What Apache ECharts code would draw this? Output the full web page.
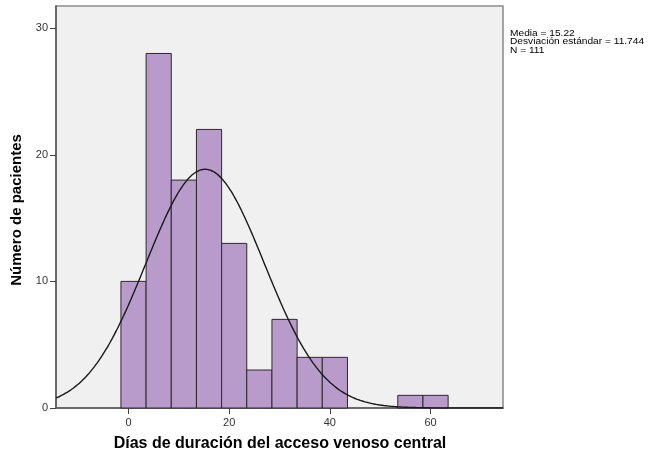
<!DOCTYPE html>
<html>
<head>
<meta charset="utf-8">
<script src="https://cdn.jsdelivr.net/npm/echarts@6/dist/echarts.min.js"></script>
<style>
  html, body { margin: 0; padding: 0; background: #ffffff; }
  #chart { width: 650px; height: 458px; }
</style>
</head>
<body>
<div id="chart"></div>
<script>
// Histogram bins (days) and patient counts per bin
const binLower = [-1.5, 3.5, 8.5, 13.5, 18.5, 23.5, 28.5, 33.5, 38.5, 43.5, 48.5, 53.5, 58.5];
const binUpper = [3.5, 8.5, 13.5, 18.5, 23.5, 28.5, 33.5, 38.5, 43.5, 48.5, 53.5, 58.5, 63.5];
const counts   = [10, 28, 18, 22, 13, 3, 7, 4, 4, 0, 0, 1, 1];

// Summary statistics shown beside the plot
const mean = 15.22;
const stdDev = 11.744;
const nTotal = 111;
const binWidth = 5;

// Axis tick positions
const xTicks = [0, 20, 40, 60];
const yTicks = [0, 10, 20, 30];

// Fitted normal curve scaled to counts per bin
const curveXs = [];
for (let x = -14.4; x <= 74.4; x += 0.4) curveXs.push(+x.toFixed(2));
const normalCurve = curveXs.map(function (x) {
  const z = (x - mean) / stdDev;
  return [x, nTotal * binWidth * Math.exp(-0.5 * z * z) / (stdDev * Math.sqrt(2 * Math.PI))];
});

const histData = binLower.map(function (lo, i) { return [lo, binUpper[i], counts[i]]; });

const chart = echarts.init(document.getElementById('chart'), null, { renderer: 'canvas' });
const labelFont = 'Liberation Sans, Arial, sans-serif';

chart.setOption({
  animation: false,
  backgroundColor: '#ffffff',
  grid: {
    left: 56, right: 147, top: 6, bottom: 50,
    show: true, backgroundColor: '#f0f0f0', borderColor: '#8a8a8a', borderWidth: 1.5
  },
  xAxis: {
    type: 'value', min: -14.4, max: 74.4,
    splitLine: { show: false },
    axisLine: { show: true, onZero: false, lineStyle: { color: '#555555', width: 1.5 } },
    axisTick: { show: true, customValues: xTicks, length: 6, lineStyle: { color: '#444444', width: 1 } },
    axisLabel: { customValues: xTicks, color: '#333333', fontSize: 11, fontFamily: labelFont, margin: 9 }
  },
  yAxis: {
    type: 'value', min: 0, max: 31.75,
    splitLine: { show: false },
    axisLine: { show: true, onZero: false, lineStyle: { color: '#555555', width: 1.5 } },
    axisTick: { show: true, customValues: yTicks, length: 6, lineStyle: { color: '#444444', width: 1 } },
    axisLabel: { customValues: yTicks, color: '#333333', fontSize: 11, fontFamily: labelFont, margin: 8 }
  },
  series: [
    {
      type: 'custom',
      data: histData,
      encode: { x: [0, 1], y: 2 },
      z: 2,
      renderItem: function (params, api) {
        if (api.value(2) <= 0) return null;
        const a = api.coord([api.value(0), 0]);
        const b = api.coord([api.value(1), api.value(2)]);
        return {
          type: 'rect',
          shape: { x: a[0], y: b[1], width: b[0] - a[0], height: a[1] - b[1] },
          style: { fill: '#b89bca', stroke: '#2a2a2a', lineWidth: 1 }
        };
      }
    },
    {
      type: 'line',
      data: normalCurve,
      showSymbol: false,
      smooth: true,
      z: 3,
      lineStyle: { color: '#1a1a1a', width: 1.4 }
    }
  ],
  graphic: [
    {
      type: 'text', x: 510, y: 29, scaleX: 1.13,
      style: {
        text: 'Media = 15.22\nDesviación estándar = 11.744\nN = 111',
        font: '9px Liberation Sans, Arial, sans-serif', fill: '#000000', lineHeight: 8.5
      }
    },
    {
      type: 'text', x: 280, y: 444,
      style: {
        text: 'Días de duración del acceso venoso central',
        font: 'bold 16px Liberation Sans, Arial, sans-serif', fill: '#000000',
        align: 'center', verticalAlign: 'middle'
      }
    },
    {
      type: 'text', x: 17, y: 210, rotation: Math.PI / 2,
      style: {
        text: 'Número de pacientes',
        font: 'bold 15px Liberation Sans, Arial, sans-serif', fill: '#000000',
        align: 'center', verticalAlign: 'middle'
      }
    }
  ]
});
</script>
</body>
</html>
